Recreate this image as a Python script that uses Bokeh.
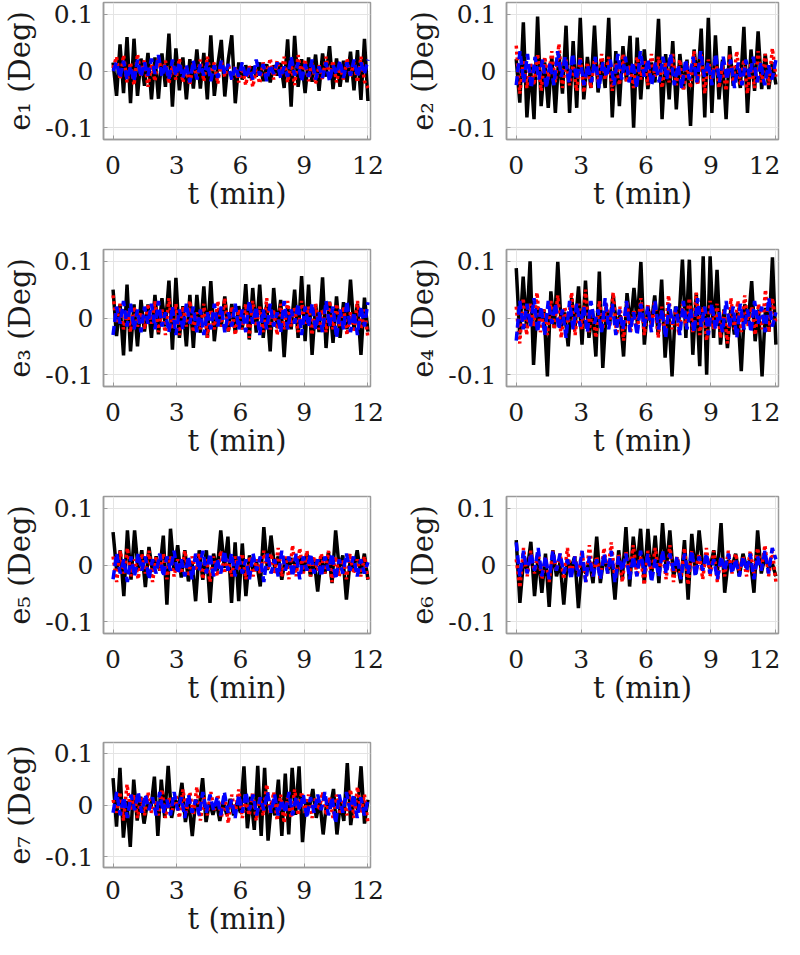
import numpy as np
from bokeh.plotting import figure
from bokeh.layouts import column, row
from bokeh.models import Range1d
from bokeh.embed import file_html
from bokeh.resources import INLINE

# ---------------- data (in 1e-3 deg) ----------------
x_ticks = [0, 3, 6, 9, 12]
y_ticks = [-0.1, 0, 0.1]
y_tick_labels = {-0.1: "-0.1", 0: "0", 0.1: "0.1"}
x_label = "t (min)"
y_labels = ["e\u2081 (Deg)", "e\u2082 (Deg)", "e\u2083 (Deg)", "e\u2084 (Deg)",
            "e\u2085 (Deg)", "e\u2086 (Deg)", "e\u2087 (Deg)"]

e1_solid = [15,-44,47,-39,60,-57,57,-44,22,-26,32,-50,24,-49,31,-28,66,-63,40,-34,
            24,-50,21,-31,38,-31,32,-50,63,-44,10,55,-45,20,63,-57,15,-15,10,-12,
            8,-10,15,-18,12,-20,10,-8,14,-30,56,-63,62,-28,21,-39,24,-19,29,-35,
            31,-10,44,-32,22,-28,18,-20,34,-34,37,-51,57,-53]
e1_dotted = [5,25,-15,28,-20,15,-25,30,-10,20,-28,12,-18,25,-5,18,-22,10,-15,22,
             -20,8,-25,15,-12,20,-18,25,-8,15,-22,18,-10,12,-15,8,-20,5,-25,10,
             -28,2,-22,15,-10,22,-15,18,-8,25,-20,12,-25,28,-10,20,-18,15,-22,10,
             -15,25,-12,18,-20,8,-15,22,-10,15,-20,25,-18,-30]
e1_dashed = [0,15,-12,18,-15,8,-18,20,-10,15,-8,22,-5,28,-10,12,-15,20,-8,15,
             -12,10,-20,18,-15,12,-8,15,-18,10,-12,18,-5,12,-15,8,-10,15,-12,5,
             -15,20,-8,12,-18,10,-5,15,-12,8,-10,25,-8,15,-18,12,-10,20,-15,8,
             -12,15,-18,10,-5,18,-12,15,-8,20,-10,15,-5,20]

e2_solid = [21,-56,86,-82,9,-85,96,-62,15,-65,26,-74,30,-40,80,-74,53,-65,94,-50,
            25,-30,80,-38,20,-30,94,-82,35,-62,44,-18,62,-100,59,-50,38,-32,15,-20,
            92,-85,30,-50,53,-68,30,-32,20,-97,38,-20,75,-82,94,-74,63,-50,20,-85,
            44,-26,10,-30,78,-74,38,-35,70,-32,30,-32,15,-24]
e2_dotted = [45,-40,20,-30,15,-25,30,-35,25,-15,35,-20,48,-30,20,-25,10,-35,25,-38,
             15,-30,20,-20,30,-15,25,-35,15,-25,30,-20,10,-30,25,-15,20,-25,30,-10,
             25,-30,15,-20,30,-25,20,-35,15,-30,35,-25,30,-40,20,-15,25,-30,10,-35,
             30,-20,35,-25,20,-40,15,-30,35,-20,30,-25,40,-10]
e2_dashed = [-25,35,-20,30,-30,25,-15,20,-30,15,-25,35,-10,25,-20,30,-15,20,-25,10,
             -20,25,-30,15,-10,20,-25,30,-15,25,-20,15,-30,35,-10,20,-25,15,-20,25,
             -15,30,-25,10,-30,20,-15,25,-20,35,-10,15,-25,30,-20,25,-15,20,-30,15,
             -25,20,-10,25,-20,15,-25,10,-15,20]

e3_solid = [50,-32,24,-66,59,-59,24,-50,32,-24,24,-35,41,-29,35,-15,66,-56,71,-35,
            21,-50,41,-53,41,-26,56,-35,65,-41,15,-15,38,-24,25,-26,21,-20,60,-38,
            53,-26,59,-35,24,-59,53,-18,32,-69,21,-20,50,-35,74,-41,59,-65,24,-25,
            72,-53,29,-44,38,-35,28,-20,68,-20,25,-65,36,-24]
e3_dotted = [40,-10,25,-20,15,-25,20,-15,10,-20,25,-10,30,-25,15,-30,35,-20,25,-30,
             20,-15,30,-25,10,-20,25,-35,15,-20,30,-15,35,-25,20,-30,15,-20,25,-35,
             30,-15,20,-25,35,-20,15,-30,25,-20,30,-15,20,-25,30,-10,20,-30,25,-20,
             15,-25,30,-20,25,-15,20,-30,10,-25,30,-20,15,-35]
e3_dashed = [-30,20,-10,30,-15,25,-20,15,-25,20,-10,25,-20,30,-15,10,-25,20,-30,15,
             -20,25,-10,20,-25,15,-30,10,-20,25,-15,20,-25,10,-15,25,-20,15,-25,30,
             -10,20,-30,15,-20,25,-15,10,-25,30,-20,15,-10,25,-30,20,-15,25,-20,10,
             -25,30,-15,20,-35,15,-20,30,-25,10,-30,20,-15,28]

e4_solid = [88,-29,73,-18,100,-83,20,-5,15,-103,47,-18,99,-15,10,-50,35,-15,56,-47,
            66,-35,12,-68,82,-88,15,-10,41,-15,5,-68,44,-15,53,-10,99,-47,20,-10,
            40,-29,68,-70,15,-103,20,-5,103,-35,103,-65,44,-85,109,-100,109,-35,85,-47,
            15,-53,18,-29,10,-94,24,-10,65,-41,15,-103,18,-24,107,-47]
e4_dotted = [20,-45,35,-30,25,-15,45,-25,15,-30,30,-20,40,-35,20,-10,45,-30,25,-20,
             50,-25,15,-35,30,-20,25,-15,45,-30,20,-40,30,-25,15,-20,35,-30,25,-15,
             30,-35,20,-25,40,-20,15,-30,25,-15,35,-25,45,-30,20,-40,30,-20,25,-35,
             15,-45,35,-20,30,-25,40,-15,20,-30,25,-20,50,-25,35,-10]
e4_dashed = [-40,30,-20,25,-15,35,-25,20,-30,30,-10,25,-20,15,-35,30,-20,25,-15,20,
             -25,30,-10,15,-25,35,-20,25,-30,15,-20,30,-25,10,-30,25,-15,20,-25,30,
             -20,15,-35,25,-10,20,-30,30,-20,15,-25,35,-15,20,-30,25,-20,10,-25,30,
             -15,20,-35,25,-20,15,-25,30,-10,20,-25,35,-15,10]

e5_solid = [58,-10,26,-55,61,-26,61,-10,26,-39,32,-12,15,-10,52,-70,64,-10,35,-22,
            26,-29,5,-64,26,-26,26,-67,20,-10,61,-5,50,-67,40,-64,38,-55,17,-10,
            5,-38,67,-9,52,-5,15,-26,12,-3,12,-8,15,-12,20,-20,10,-47,15,-15,
            23,-32,61,-6,17,-61,5,-10,26,-15,20,-26]
e5_dotted = [15,-30,25,-15,30,-20,10,-25,20,-15,25,-30,15,-10,20,-25,15,-20,10,-15,
             25,-20,15,-10,20,-25,10,-30,15,-20,25,-15,10,-20,15,-10,20,-25,15,-20,
             10,-15,25,-10,20,-15,30,-20,15,-25,35,-20,30,-15,25,-20,15,-10,20,-15,
             25,-30,15,-20,10,-25,20,-15,10,-20,15,-25]
e5_dashed = [-25,20,-15,10,-30,15,-20,20,-10,15,-25,10,-15,20,-20,15,-10,25,-15,10,
             -20,15,-25,20,-10,25,-15,20,-20,10,-15,25,-10,20,-20,15,-15,10,-25,20,
             -10,15,-30,20,-15,10,-20,25,-10,15,-20,20,-25,15,-10,20,-15,10,-20,15,
             -10,20,-25,10,-15,20,-10,15,-20,10,-15,5]

e6_solid = [44,-67,9,-9,41,-55,17,-49,20,-74,26,-20,5,-70,10,-5,15,-76,5,-15,
            8,-32,50,-32,15,-10,9,-61,26,-26,67,-38,50,-6,64,-32,64,-20,52,-32,
            74,-9,61,-20,5,-32,44,-61,55,-17,61,-3,15,-6,26,-15,74,-49,9,-3,
            20,-20,20,-5,9,-49,61,-15,15,-5,3,-20]
e6_dotted = [10,-40,30,-20,25,-15,20,-25,15,-30,25,-10,20,-25,30,-20,15,-15,25,-30,
             35,-20,15,-25,30,-15,40,-25,20,-30,25,-15,35,-20,15,-35,25,-20,30,-15,
             20,-25,35,-30,15,-20,30,-35,25,-15,20,-25,30,-20,25,-30,15,-20,25,-15,
             20,-10,15,-20,25,-15,30,-10,35,-20,25,-30]
e6_dashed = [40,-20,25,-15,20,-10,30,-20,15,-25,25,-10,20,-15,10,-25,15,-20,25,-30,
             15,-20,10,-25,20,-15,25,-30,15,-10,20,-25,15,-20,25,-15,20,-30,10,-20,
             25,-15,20,-10,15,-25,20,-15,25,-20,15,-10,20,-15,10,-25,15,-10,20,-15,
             10,-20,15,-10,20,-25,15,-10,25,-15,30,10]

e7_solid = [52,-42,72,-63,8,-81,49,-30,16,-36,5,-7,55,-60,49,-25,76,-25,10,-5,
            43,-33,5,-60,10,-5,52,-33,5,-19,5,-31,8,-19,12,-20,5,-15,75,-45,
            16,-48,76,-60,72,-69,5,-20,49,-60,61,-57,72,-19,75,-72,10,-5,31,-25,
            8,-57,5,-7,31,-57,5,-31,81,-39,16,-10,75,-36,10]
e7_dotted = [10,-15,25,-30,40,-10,20,-25,15,-20,25,-15,10,-20,30,-25,15,-10,20,-25,
             30,-15,25,-20,35,-30,15,-20,25,-10,20,-25,15,-35,20,-15,30,-25,10,-20,
             25,-30,15,-20,40,-15,25,-30,20,-35,15,-25,30,-20,25,-15,20,-25,15,-10,
             25,-20,15,-25,20,-15,10,-20,30,-25,35,-15,20,-35]
e7_dashed = [-15,25,-20,15,-25,20,-10,25,-15,20,-10,15,-20,25,-15,10,-20,25,-10,15,
             -25,20,-15,10,-20,25,-15,20,-10,15,-20,25,-15,10,-25,20,-15,25,-10,20,
             -20,15,-10,25,-15,20,-20,10,-15,25,-20,15,-10,20,-25,15,-15,20,-10,25,
             -20,15,-35,20,-15,25,-10,20,-25,15,-20,10]

series = [(e1_solid, e1_dotted, e1_dashed), (e2_solid, e2_dotted, e2_dashed),
          (e3_solid, e3_dotted, e3_dashed), (e4_solid, e4_dotted, e4_dashed),
          (e5_solid, e5_dotted, e5_dashed), (e6_solid, e6_dotted, e6_dashed),
          (e7_solid, e7_dotted, e7_dashed)]

# ---------------- styling ----------------
FONT = "DejaVu Serif"
FRAME_GRAY = "#9a9a9a"
TEXT = "#1a1a1a"


def deg(v):
    return np.asarray(v, dtype=float) / 1000.0


def panel(k, width, b_left, b_right, height, b_top, b_bottom, x_standoff):
    solid, dotted, dashed = series[k]
    p = figure(width=width, height=height, output_backend="svg", toolbar_location=None,
               x_range=Range1d(-0.45, 12.12), y_range=Range1d(-0.121, 0.121),
               min_border_left=b_left, min_border_right=b_right,
               min_border_top=b_top, min_border_bottom=b_bottom)
    p.background_fill_color = "white"
    p.border_fill_color = "white"
    p.outline_line_color = FRAME_GRAY
    p.outline_line_width = 1.5

    p.line(np.linspace(0, 12, len(solid)), deg(solid), color="black", line_width=3.5)
    p.line(np.linspace(0, 12, len(dotted)), deg(dotted), color="red", line_width=3.5,
           line_dash="3 3")
    p.line(np.linspace(0, 12, len(dashed)), deg(dashed), color="blue", line_width=3.5,
           line_dash="9 4")

    p.xaxis.ticker = x_ticks
    p.yaxis.ticker = y_ticks
    p.yaxis.major_label_overrides = y_tick_labels
    p.xaxis.axis_label = x_label
    p.yaxis.axis_label = y_labels[k]

    p.grid.grid_line_color = "#e4e4e4"
    p.grid.grid_line_width = 1

    p.axis.axis_line_color = FRAME_GRAY
    p.axis.axis_line_width = 1.5
    p.axis.major_tick_line_color = FRAME_GRAY
    p.axis.major_tick_in = 4
    p.axis.major_tick_out = 0
    p.axis.minor_tick_line_color = None
    p.axis.major_label_text_font = FONT
    p.axis.major_label_text_font_size = "25px"
    p.axis.major_label_text_color = TEXT
    p.axis.axis_label_text_font = FONT
    p.axis.axis_label_text_font_size = "29px"
    p.axis.axis_label_text_font_style = "normal"
    p.axis.axis_label_text_color = TEXT
    p.xaxis.major_label_standoff = x_standoff
    p.xaxis.axis_label_standoff = 0
    p.yaxis.major_label_standoff = 10
    p.yaxis.axis_label_standoff = 5
    return p


# column geometry (width, left border, right border)
L = (398, 97, 28)
R = (382, 108, 2)
# row geometry (height, top border, bottom border, x tick-label standoff)
rows_geo = [(247, 2, 108, 16), (247, 2, 108, 16), (246, 2, 107, 16), (198, 2, 64, 13)]

figs = []
for k in range(7):
    r, c = divmod(k, 2)
    w, bl, br = L if c == 0 else R
    h, bt, bb, xs = rows_geo[r]
    figs.append(panel(k, w, bl, br, h, bt, bb, xs))

layout = column(row(figs[0], figs[1]), row(figs[2], figs[3]),
                row(figs[4], figs[5]), row(figs[6]))

open("out.html", "w").write(file_html(layout, INLINE))
